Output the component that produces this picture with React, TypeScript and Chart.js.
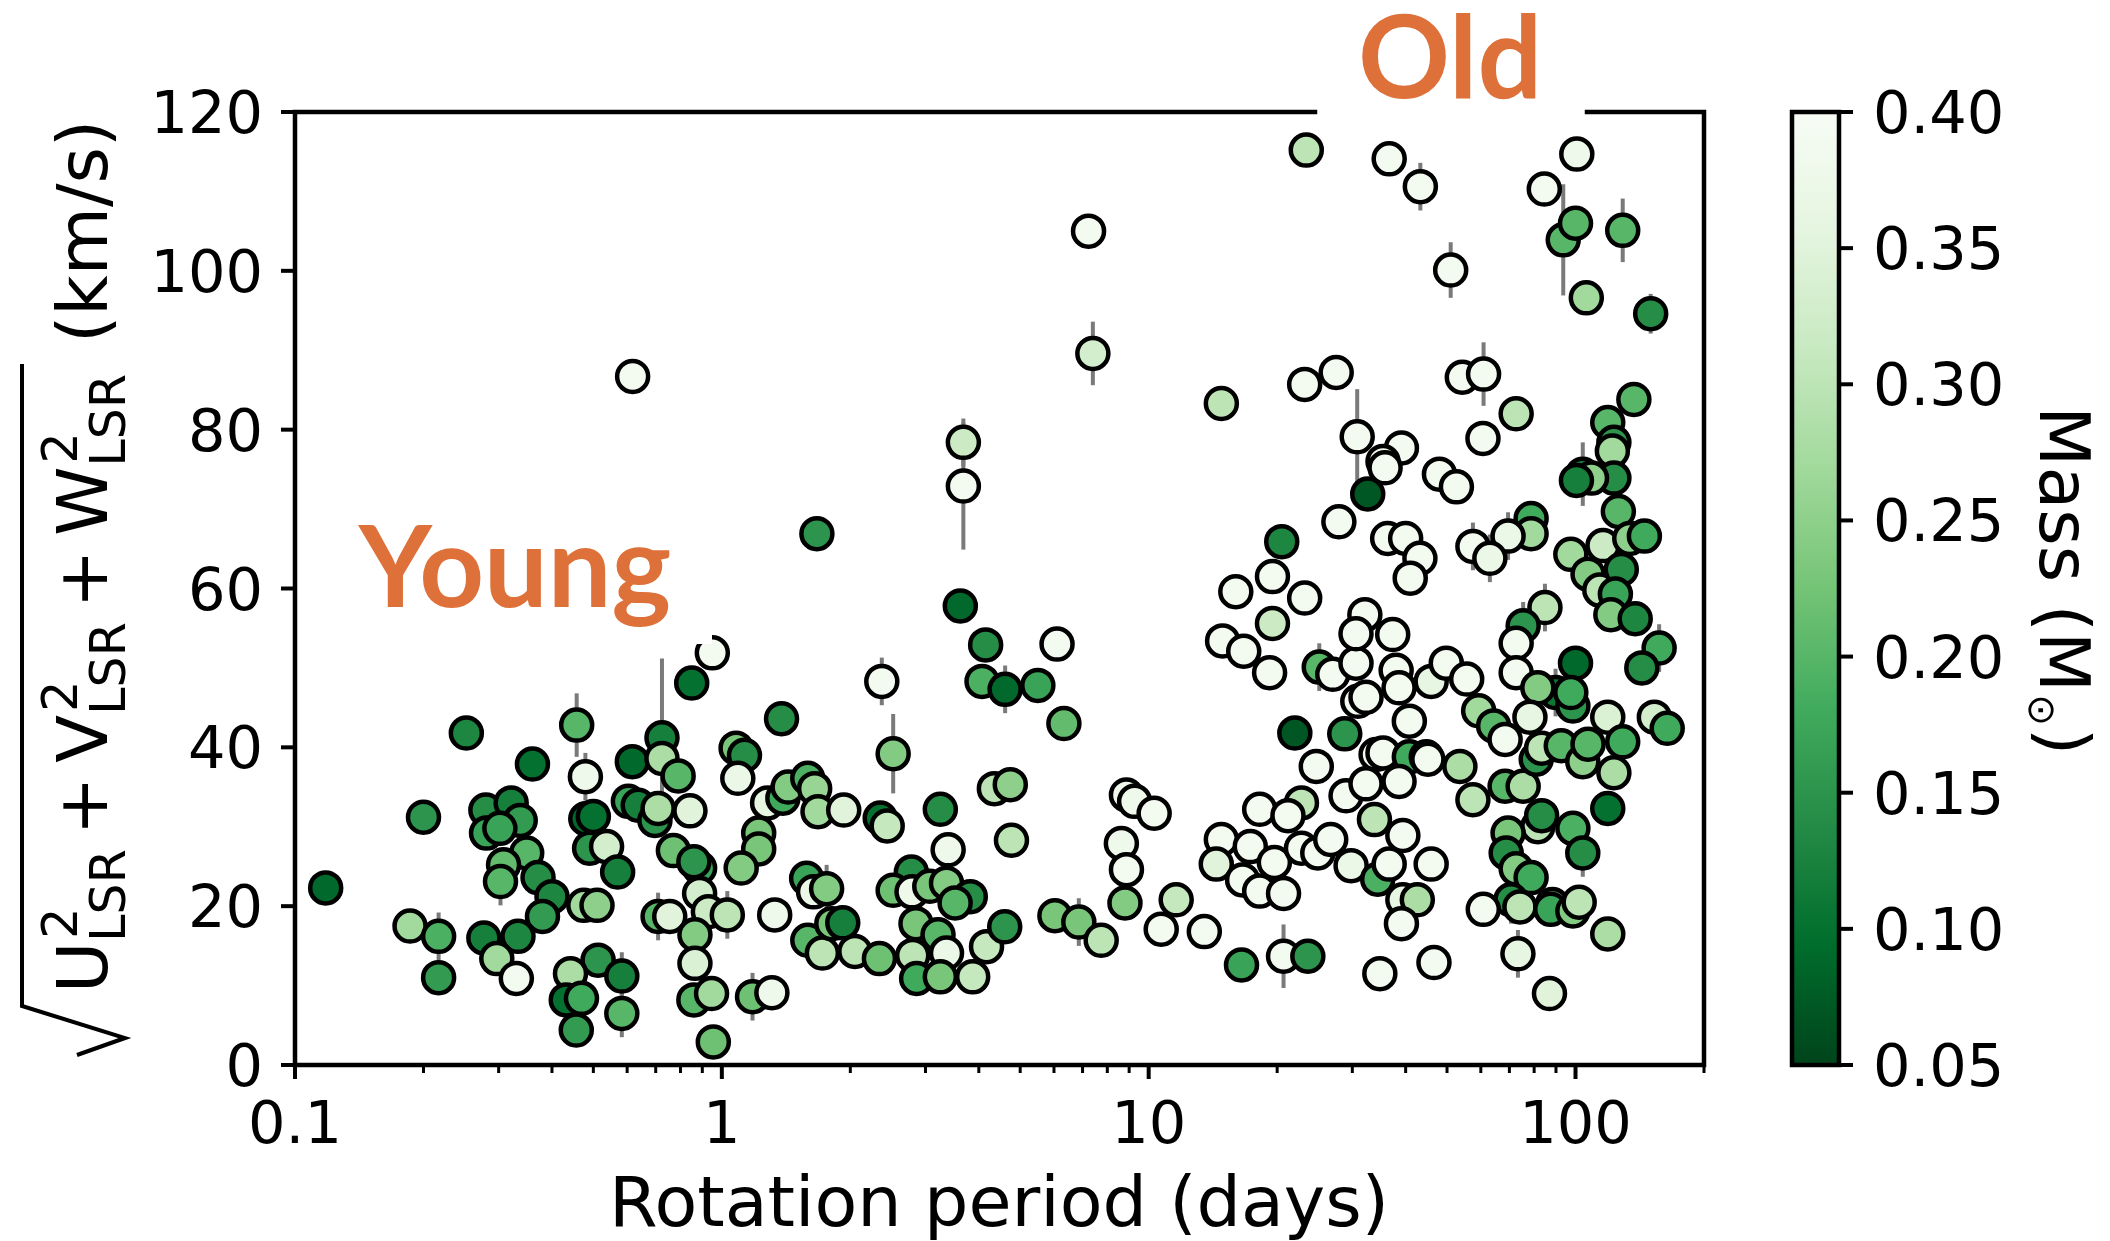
import React, { useEffect, useRef } from 'react';
import { Chart, registerables } from 'chart.js';

Chart.register(...registerables);

// ---------------- DATA ----------------
// Rotation period (days)
const period = [
  // young, short periods
  0.118,0.252,0.36,0.20,0.457,0.479,0.617,0.724,0.85,0.724,
  0.79,0.28,0.321,0.337,0.281,0.302,0.349,0.308,0.303,0.371,
  0.40,0.38,0.186,0.217,0.217,0.277,0.333,0.297,0.33,0.48,
  0.50,0.49,0.537,0.57,0.475,0.51,0.604,0.637,0.697,0.709,
  0.842,0.77,0.887,0.86,0.887,0.93,0.709,0.755,0.865,0.865,
  0.86,0.946,0.955,0.513,0.583,0.442,0.432,0.469,0.456,0.583,
  0.95,
  // 1 - 10 days
  1.38,1.08,1.13,1.09,2.37,2.52,4.15,4.07,4.61,5.5,
  6.1,6.33,1.03,1.33,1.18,1.31,1.22,1.22,1.11,1.28,
  1.39,1.43,1.59,1.65,1.68,1.93,2.35,2.44,3.25,3.39,
  4.35,4.74,4.77,8.87,9.27,8.63,8.87,8.8,1.58,1.64,
  1.76,1.59,1.72,1.81,1.92,2.05,2.34,2.78,2.52,2.79,
  3.07,3.36,3.82,3.52,2.85,3.21,2.8,3.36,2.86,3.25,
  3.87,4.17,4.6,6.03,6.86,7.74,
  // high velocity
  0.618,3.68,3.68,1.67,3.62,7.23,7.4,14.8,23.4,23.2,
  27.5,36.6,43.3,51.0,54.3,60.9,84.5,100.7,93.6,100,
  129,106,150,137,
  // 10 - 50 days
  30.8,39.1,35.4,35.8,32.6,48.0,27.9,36.3,40.0,20.5,
  19.5,16.0,23.2,19.5,14.9,16.7,19.2,25.1,27.0,30.6,
  32.1,30.6,37.3,38.0,38.6,45.9,30.9,32.3,40.8,22.0,
  28.8,24.7,34.1,35.4,40.8,44.7,38.6,29.0,32.3,22.8,
  18.2,21.2,33.8,39.4,14.8,17.3,19.7,14.4,16.6,18.2,
  20.7,22.8,24.9,26.7,29.8,34.4,36.6,39.4,42.6,39.1,
  45.9,11.6,10.7,13.5,16.5,20.7,23.6,34.8,46.6,10.3,
  43.2,41.0,
  // 50 - 170 days
  72.6,60.7,52.6,119,123,122,123,104,109,100.5,
  126,78.7,78.7,69.5,57.5,63,97.5,116,134,145,
  107,114,128,124,121,138,157,143,84.8,75.4,
  72.6,72.6,100,89.8,98.6,97.5,81.6,78.2,49.8,55.6,
  59.3,64.3,68.4,45.1,53.6,57.5,68.4,75.4,80.9,83.3,
  92.6,104,107,119,129,123,153,164,119,81.6,
  83.3,98.6,104,69.5,68.8,72.6,78.7,70.6,74.1,88.3,
  87.5,98.6,102,60.8,119,73.3,86.9,
];

// sqrt(U^2+V^2+W^2) (km/s)
const velocity = [
  22.3,41.8,37.9,31.2,42.8,36.3,38.2,41.2,48.1,38.6,
  36.4,32.1,33.0,30.8,29.2,29.8,26.7,25.2,23.1,23.6,
  21.2,18.7,17.5,16.2,11.0,16.0,16.2,13.4,10.9,31.0,
  31.3,27.3,27.5,24.3,20.1,20.1,33.2,32.7,30.8,32.3,
  32.0,27.0,24.8,25.6,21.6,19.3,18.7,18.7,16.4,12.8,
  8.2,9.0,2.9,13.2,11.2,11.5,8.2,8.4,4.4,6.5,
  51.9,
  43.6,39.9,39.0,36.1,48.3,39.2,52.9,48.3,47.3,47.8,
  53.0,43.0,18.9,18.9,8.6,9.1,29.2,27.2,24.8,33.0,
  33.6,35.0,36.1,34.8,31.9,32.1,31.1,30.1,32.2,27.1,
  34.8,35.3,28.3,34.0,33.2,27.9,24.6,20.4,23.5,21.8,
  22.2,15.7,14.1,17.8,17.9,14.3,13.4,24.3,22.0,21.8,
  22.5,22.9,21.2,20.4,17.8,16.4,13.8,14.1,10.9,11.1,
  11.1,14.9,17.4,18.8,18.0,15.7,
  86.7,78.4,72.9,66.9,57.8,105.0,89.6,83.3,115.2,85.7,
  87.2,114.1,110.6,100.1,86.6,87.0,110.3,114.7,103.9,106.0,
  105.1,96.6,94.6,83.8,
  79.1,77.7,76.0,75.2,71.9,74.4,68.4,66.3,66.3,65.9,
  61.5,59.6,58.8,55.6,53.4,52.1,49.4,50.1,49.2,50.6,
  56.7,54.3,54.2,49.7,47.5,48.3,45.8,46.3,43.3,41.8,
  41.7,37.6,39.1,39.3,38.8,38.8,35.7,33.9,35.4,33.0,
  32.2,31.4,30.9,28.9,28.4,27.5,25.5,25.3,23.3,21.9,
  21.6,27.3,26.7,28.4,25.1,23.4,25.3,20.8,20.8,17.8,
  25.3,20.8,17.1,16.8,12.6,13.7,13.7,11.5,12.9,31.7,
  63.8,61.3,
  82.0,78.9,72.8,80.9,78.4,77.3,73.9,74.4,73.9,73.6,
  69.7,68.8,66.9,66.6,65.3,63.8,64.3,65.4,66.3,66.6,
  61.8,59.8,62.4,59.3,56.7,56.2,52.5,50.0,57.6,55.3,
  53.1,49.4,50.6,46.9,45.2,46.9,47.5,43.8,50.6,48.6,
  44.6,42.7,41.0,38.5,37.6,33.4,35.1,35.1,38.5,39.9,
  40.2,38.2,40.4,43.8,40.7,36.8,43.8,42.4,32.3,30.0,
  31.4,29.8,26.7,29.2,26.7,24.7,23.6,20.8,19.9,20.2,
  19.6,19.4,20.5,19.6,16.5,14.0,9.0,
];

// Mass (M_sun)
const mass = [
  0.09,0.13,0.10,0.15,0.20,0.38,0.09,0.12,0.10,0.28,
  0.20,0.14,0.12,0.16,0.17,0.17,0.20,0.21,0.20,0.14,
  0.13,0.16,0.27,0.19,0.16,0.12,0.13,0.27,0.39,0.09,
  0.10,0.15,0.33,0.12,0.27,0.25,0.17,0.12,0.15,0.28,
  0.35,0.22,0.17,0.15,0.33,0.32,0.20,0.35,0.24,0.34,
  0.20,0.27,0.22,0.15,0.12,0.28,0.10,0.18,0.16,0.20,
  0.39,
  0.14,0.23,0.14,0.37,0.39,0.24,0.14,0.19,0.09,0.17,
  0.39,0.21,0.30,0.38,0.22,0.38,0.23,0.23,0.24,0.36,
  0.18,0.24,0.19,0.26,0.27,0.35,0.10,0.31,0.14,0.38,
  0.30,0.25,0.30,0.38,0.38,0.38,0.39,0.24,0.17,0.37,
  0.24,0.20,0.30,0.23,0.12,0.30,0.22,0.14,0.22,0.38,
  0.23,0.24,0.14,0.20,0.23,0.20,0.30,0.37,0.18,0.23,
  0.31,0.31,0.15,0.23,0.23,0.30,
  0.39,0.32,0.39,0.15,0.09,0.39,0.33,0.30,0.30,0.39,
  0.39,0.39,0.39,0.39,0.39,0.39,0.39,0.38,0.20,0.20,
  0.20,0.27,0.14,0.20,
  0.39,0.39,0.38,0.39,0.07,0.39,0.39,0.39,0.39,0.13,
  0.39,0.39,0.39,0.32,0.39,0.39,0.39,0.20,0.39,0.39,
  0.39,0.39,0.39,0.39,0.39,0.36,0.39,0.39,0.39,0.07,
  0.15,0.39,0.39,0.39,0.18,0.39,0.39,0.39,0.39,0.30,
  0.39,0.39,0.30,0.39,0.39,0.39,0.39,0.35,0.39,0.39,
  0.39,0.39,0.39,0.39,0.37,0.19,0.39,0.36,0.28,0.39,
  0.39,0.31,0.39,0.39,0.17,0.39,0.15,0.39,0.39,0.39,
  0.39,0.39,
  0.30,0.39,0.39,0.20,0.15,0.27,0.14,0.12,0.25,0.12,
  0.20,0.18,0.27,0.37,0.39,0.37,0.27,0.32,0.25,0.18,
  0.24,0.30,0.14,0.17,0.24,0.13,0.18,0.14,0.30,0.15,
  0.39,0.39,0.09,0.11,0.15,0.18,0.24,0.36,0.39,0.39,
  0.27,0.20,0.39,0.39,0.28,0.30,0.20,0.28,0.15,0.30,
  0.20,0.25,0.20,0.34,0.18,0.28,0.33,0.18,0.10,0.30,
  0.14,0.19,0.14,0.23,0.14,0.24,0.18,0.14,0.30,0.23,
  0.17,0.24,0.30,0.39,0.28,0.36,0.35,
];

// Velocity uncertainty (km/s), 0 = no visible bar
const velErr = [
  1.5,0,0,0,4,3,0,10,2,0,
  0,2,0,0,0,0,0,0,3,0,
  0,0,0,3,0,0,0,2,0,0,
  2,0,2,2,0,2,0,2,0,2,
  0,0,0,0,0,0,3,0,0,0,
  0,2,0,0,3,0,0,0,1,3,
  0,
  2,0,0,0,3,5,0,0,3,2,
  2,2,3,2,3,0,0,0,2,0,
  0,2,2,0,0,0,0,0,0,0,
  0,0,2,0,0,0,0,0,2,0,
  3,0,0,0,0,0,0,2,0,0,
  2,0,0,0,0,2,0,0,0,0,
  0,0,0,0,3,0,
  0,3,8,0,2,0,4,2,1.5,0,
  0,0,3,3.5,0,4,0,0,7,0,
  4,0,2.5,0,
  6,0,0,0,0,2,0,2,0,0,
  0,0,0,2,0,0,0,3,0,0,
  0,0,0,0,0,0,0,2,0,0,
  0,0,0,0,0,0,0,2,0,2,
  0,0,0,0,0,0,0,0,0,0,
  0,0,0,0,2,0,0,0,2,0,
  0,2,2,0,0,4,0,0,0,0,
  0,2,
  0,0,0,0,0,0,0,4,0,0,
  0,0,2,3,3,3,0,0,0,2,
  0,0,0,3,0,0,3,2,3,3,
  0,0,0,3,0,2,0,0,0,0,
  0,0,0,0,2,0,0,0,0,0,
  0,0,0,0,0,0,2,0,0,0,
  0,0,3,0,0,0,0,3,0,0,
  0,2,0,0,0,3,2,
];

// Ticks
const xMajorTicks = [0.1, 1, 10, 100];
const xTickLabels = ['0.1', '1', '10', '100'];
const xMinorTicks = [0.2,0.3,0.4,0.5,0.6,0.7,0.8,0.9,2,3,4,5,6,7,8,9,20,30,40,50,60,70,80,90,200];
const yTicks = [0, 20, 40, 60, 80, 100, 120];
const yTickLabels = ['0', '20', '40', '60', '80', '100', '120'];
const cbTicks = [0.05, 0.10, 0.15, 0.20, 0.25, 0.30, 0.35, 0.40];
const cbTickLabels = ['0.05', '0.10', '0.15', '0.20', '0.25', '0.30', '0.35', '0.40'];

// ---------------- STYLE ----------------
const W = 2110, H = 1241;
const AREA = { left: 295, top: 112, right: 1704, bottom: 1065 };
const CB = { left: 1792, right: 1839 };
const M_MIN = 0.05, M_MAX = 0.40;
const GREENS = ['#f7fcf5','#e5f5e0','#c7e9c0','#a1d99b','#74c476','#41ab5d','#238b45','#006d2c','#00441b'];
const ORANGE = '#DE7039';
const TICK_FONT = '59px "DejaVu Sans"';

function hexToRgb(h: string) {
  const n = parseInt(h.slice(1), 16);
  return [(n >> 16) & 255, (n >> 8) & 255, n & 255];
}
function massColor(m: number) {
  let t = (M_MAX - m) / (M_MAX - M_MIN);
  t = Math.max(0, Math.min(1, t));
  const pos = t * (GREENS.length - 1);
  const i = Math.min(GREENS.length - 2, Math.floor(pos));
  const f = pos - i;
  const a = hexToRgb(GREENS[i]), b = hexToRgb(GREENS[i + 1]);
  const c = a.map((v, k) => Math.round(v + (b[k] - v) * f));
  return `rgb(${c[0]},${c[1]},${c[2]})`;
}

const decor = {
  id: 'decor',
  beforeDatasetsDraw(chart: any) {
    const ctx = chart.ctx;
    const xs = chart.scales.x, ys = chart.scales.y;
    ctx.save();
    ctx.strokeStyle = '#7a7a7a';
    ctx.lineWidth = 4;
    for (let i = 0; i < period.length; i++) {
      const e = velErr[i];
      if (!e) continue;
      const px = xs.getPixelForValue(period[i]);
      ctx.beginPath();
      ctx.moveTo(px, ys.getPixelForValue(velocity[i] - e));
      ctx.lineTo(px, ys.getPixelForValue(velocity[i] + e));
      ctx.stroke();
    }
    ctx.restore();
  },
  afterDatasetsDraw(chart: any) {
    const ctx = chart.ctx;
    const xs = chart.scales.x, ys = chart.scales.y;
    const { left, right, top, bottom } = chart.chartArea;
    ctx.save();

    // "Young" annotation with white box
    ctx.fillStyle = '#fff';
    ctx.fillRect(322, 500, 390, 144);
    ctx.fillStyle = ORANGE;
    ctx.font = 'bold 113px Lato';
    ctx.textAlign = 'center';
    ctx.textBaseline = 'alphabetic';
    ctx.fillText('Young', 515, 607);

    // frame
    ctx.strokeStyle = '#000';
    ctx.lineWidth = 4.5;
    ctx.lineCap = 'square';
    ctx.beginPath();
    ctx.moveTo(left, top); ctx.lineTo(left, bottom); ctx.lineTo(right, bottom); ctx.lineTo(right, top);
    ctx.moveTo(right, top); ctx.lineTo(1587, top);
    ctx.moveTo(1315, top); ctx.lineTo(left, top);
    ctx.stroke();
    ctx.lineCap = 'butt';

    // "Old" annotation
    ctx.fillStyle = ORANGE;
    ctx.font = 'bold 114px Lato';
    ctx.fillText('Old', 1450, 98);

    // ticks
    ctx.strokeStyle = '#000';
    ctx.lineWidth = 4;
    xMajorTicks.forEach((v) => {
      const px = xs.getPixelForValue(v);
      ctx.beginPath(); ctx.moveTo(px, bottom); ctx.lineTo(px, bottom + 14); ctx.stroke();
    });
    ctx.lineWidth = 3;
    xMinorTicks.forEach((v) => {
      const px = xs.getPixelForValue(v);
      if (px > right + 1) return;
      ctx.beginPath(); ctx.moveTo(px, bottom); ctx.lineTo(px, bottom + 8); ctx.stroke();
    });
    ctx.lineWidth = 4;
    yTicks.forEach((v) => {
      const py = ys.getPixelForValue(v);
      ctx.beginPath(); ctx.moveTo(left, py); ctx.lineTo(left - 14, py); ctx.stroke();
    });

    // tick labels
    ctx.fillStyle = '#000';
    ctx.font = TICK_FONT;
    ctx.textAlign = 'center';
    ctx.textBaseline = 'alphabetic';
    xMajorTicks.forEach((v, i) => {
      ctx.fillText(xTickLabels[i], xs.getPixelForValue(v), 1143);
    });
    ctx.textAlign = 'right';
    yTicks.forEach((v, i) => {
      ctx.fillText(yTickLabels[i], 263, ys.getPixelForValue(v) + 21);
    });

    // x title
    ctx.textAlign = 'center';
    ctx.font = '70px "DejaVu Sans"';
    ctx.fillText('Rotation period (days)', 999, 1226);

    // y title (rotated, with radical)
    const F = 70, S = 49;
    ctx.save();
    ctx.translate(107, 1053);
    ctx.rotate(-Math.PI / 2);
    ctx.textAlign = 'left';
    let u = 60;
    const main = (s: string) => {
      ctx.font = `${F}px "DejaVu Sans"`;
      ctx.fillText(s, u, 0);
      u += ctx.measureText(s).width;
    };
    const subsup = (sup: string, sub: string) => {
      ctx.font = `${S}px "DejaVu Sans"`;
      ctx.fillText(sup, u + 3, -30);
      const w1 = ctx.measureText(sup).width + 3;
      ctx.fillText(sub, u, 18);
      const w2 = ctx.measureText(sub).width;
      u += Math.max(w1, w2);
    };
    main('U'); subsup('2', 'LSR');
    u += 0.2 * F; main('+'); u += 0.2 * F;
    main('V'); subsup('2', 'LSR');
    u += 0.2 * F; main('+'); u += 0.2 * F;
    main('W'); subsup('2', 'LSR');
    const uEnd = u + 10;
    ctx.lineWidth = 4;
    ctx.lineJoin = 'miter';
    ctx.beginPath();
    ctx.moveTo(-2, -30); ctx.lineTo(15, 18); ctx.lineTo(47, -85); ctx.lineTo(uEnd, -85);
    ctx.stroke();
    u = uEnd + 0.3 * F;
    main('(km/s)');
    ctx.restore();

    // colorbar
    const grad = ctx.createLinearGradient(0, bottom, 0, top);
    GREENS.slice().reverse().forEach((c, i) => grad.addColorStop(i / (GREENS.length - 1), c));
    ctx.fillStyle = grad;
    ctx.fillRect(CB.left, top, CB.right - CB.left, bottom - top);
    ctx.strokeStyle = '#000';
    ctx.lineWidth = 4.5;
    ctx.strokeRect(CB.left, top, CB.right - CB.left, bottom - top);
    ctx.lineWidth = 4;
    ctx.fillStyle = '#000';
    ctx.font = TICK_FONT;
    ctx.textAlign = 'left';
    cbTicks.forEach((v, i) => {
      const py = bottom - (v - M_MIN) / (M_MAX - M_MIN) * (bottom - top);
      ctx.beginPath(); ctx.moveTo(CB.right, py); ctx.lineTo(CB.right + 14, py); ctx.stroke();
      ctx.fillText(cbTickLabels[i], 1873, py + 21);
    });

    // colorbar label
    ctx.save();
    ctx.translate(2040, 406);
    ctx.rotate(Math.PI / 2);
    ctx.textAlign = 'left';
    ctx.font = '70px "DejaVu Sans"';
    let cu = 0;
    ctx.fillText('Mass (M', cu, 0);
    cu += ctx.measureText('Mass (M').width;
    ctx.font = '38px "DejaVu Sans"';
    ctx.fillText('\u2299', cu + 2, 11);
    cu += ctx.measureText('\u2299').width + 4;
    ctx.font = '70px "DejaVu Sans"';
    ctx.fillText(')', cu, 0);
    ctx.restore();

    ctx.restore();
  },
};

export default function App() {
  const ref = useRef<HTMLCanvasElement>(null);
  useEffect(() => {
    if (!ref.current) return;
    const chart = new Chart(ref.current, {
      type: 'scatter',
      data: {
        datasets: [{
          data: period.map((p, i) => ({ x: p, y: velocity[i] })),
          pointRadius: 15.5,
          pointHoverRadius: 15.5,
          pointBackgroundColor: mass.map(massColor),
          pointBorderColor: '#000',
          pointBorderWidth: 4.5,
        }],
      },
      options: {
        responsive: false,
        animation: false,
        events: [],
        layout: { padding: { left: 0, top: AREA.top, right: W - AREA.right, bottom: 0 } },
        plugins: { legend: { display: false }, tooltip: { enabled: false } },
        scales: {
          x: {
            type: 'logarithmic', min: 0.1, max: 200,
            grid: { display: false }, border: { display: false }, ticks: { display: false },
            afterFit: (s: any) => { s.height = H - AREA.bottom; },
          },
          y: {
            type: 'linear', min: 0, max: 120,
            grid: { display: false }, border: { display: false }, ticks: { display: false },
            afterFit: (s: any) => { s.width = AREA.left; },
          },
        },
      } as any,
      plugins: [decor],
    });
    return () => chart.destroy();
  }, []);
  return (
    <div style={{ position: 'fixed', left: 0, top: 0, width: W, height: H, background: '#fff' }}>
      <canvas ref={ref} width={W} height={H} style={{ width: W, height: H, display: 'block' }} />
    </div>
  );
}
